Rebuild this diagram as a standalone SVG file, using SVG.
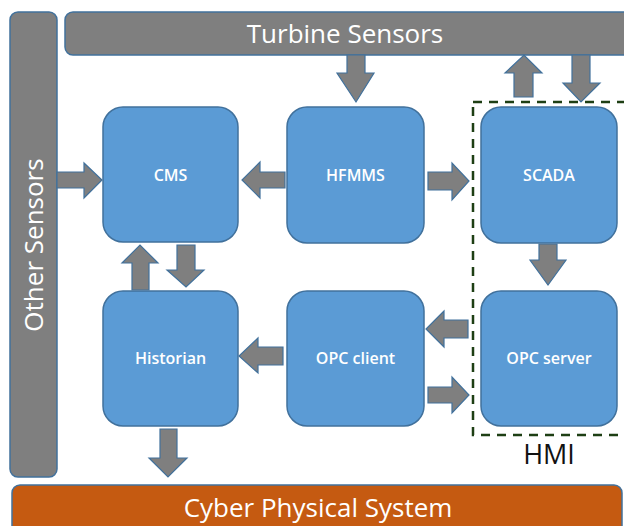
<svg xmlns="http://www.w3.org/2000/svg" width="624" height="526" viewBox="0 0 624 526">
  <style>
    .bar { fill: #7f7f7f; stroke: #41719c; stroke-width: 1.5; }
    .cps { fill: #c55a11; stroke: #41719c; stroke-width: 1.5; }
    .box { fill: #5b9bd5; stroke: #41719c; stroke-width: 1.5; }
    .arr { fill: #7f7f7f; stroke: #41719c; stroke-width: 1.2; stroke-linejoin: miter; }
    .hmi { fill: none; stroke: #1e3f14; stroke-width: 2.5; stroke-dasharray: 9 7; }
    .lbl { font-family: "Open Sans", "Noto Sans", sans-serif; font-weight: 600; font-size: 16px; fill: #ffffff; text-anchor: middle; dominant-baseline: central; }
    .big { font-family: "Open Sans", "Noto Sans", sans-serif; font-size: 26px; fill: #ffffff; text-anchor: middle; }
  </style>

  <rect width="624" height="526" fill="#ffffff"/>

  <!-- sensor and system bars -->
  <g id="turbine-sensors">
    <rect class="bar" x="65" y="12" width="566" height="43" rx="8"/>
    <text class="big" x="345" y="43">Turbine Sensors</text>
  </g>
  <g id="other-sensors">
    <rect class="bar" x="10" y="12" width="47" height="465" rx="8"/>
    <text class="big" transform="translate(43 245) rotate(-90)">Other Sensors</text>
  </g>
  <g id="cyber-physical-system">
    <rect class="cps" x="12" y="485" width="610" height="60" rx="8"/>
    <text class="big" x="318" y="517" font-size="27">Cyber Physical System</text>
  </g>

  <!-- HMI boundary -->
  <g id="hmi">
    <rect class="hmi" x="473" y="102" width="170" height="333"/>
    <text x="549" y="464" font-family="'Open Sans', 'Noto Sans', sans-serif" font-size="27" fill="#111111" text-anchor="middle">HMI</text>
  </g>

  <!-- processing blocks -->
  <g id="cms">
    <rect class="box" x="103" y="107" width="135" height="135" rx="20"/>
    <text class="lbl" x="170.5" y="175">CMS</text>
  </g>
  <g id="hfmms">
    <rect class="box" x="287" y="107" width="137" height="136" rx="20"/>
    <text class="lbl" x="355.5" y="175">HFMMS</text>
  </g>
  <g id="scada">
    <rect class="box" x="481" y="107" width="136" height="136" rx="20"/>
    <text class="lbl" x="549" y="175">SCADA</text>
  </g>
  <g id="historian">
    <rect class="box" x="103" y="291" width="135" height="135" rx="20"/>
    <text class="lbl" x="170.5" y="358">Historian</text>
  </g>
  <g id="opc-client">
    <rect class="box" x="287" y="291" width="137" height="135" rx="20"/>
    <text class="lbl" x="355.5" y="358">OPC client</text>
  </g>
  <g id="opc-server">
    <rect class="box" x="481" y="291" width="136" height="135" rx="20"/>
    <text class="lbl" x="549" y="358">OPC server</text>
  </g>

  <!-- block arrows -->
  <g id="connectors">
    <!-- Other Sensors -> CMS -->
    <polygon class="arr" points="57,172 84,172 84,163 102,180 84,198 84,188 57,188"/>
    <!-- HFMMS -> CMS -->
    <polygon class="arr" points="285,172 260,172 260,162 242,180 260,198 260,188 285,188"/>
    <!-- HFMMS -> SCADA -->
    <polygon class="arr" points="428,172 452,172 452,163 469,181 452,200 452,190 428,190"/>
    <!-- OPC server -> OPC client -->
    <polygon class="arr" points="468,320 444,320 444,311 426,329 444,347 444,338 468,338"/>
    <!-- OPC client -> OPC server -->
    <polygon class="arr" points="428,387 452,387 452,377 469,395 452,413 452,403 428,403"/>
    <!-- OPC client -> Historian -->
    <polygon class="arr" points="283,347 258,347 258,338 239,356 258,373 258,365 283,365"/>
    <!-- Turbine Sensors -> HFMMS -->
    <polygon class="arr" points="347,55 365,55 365,73 374,73 356,102 337,73 347,73"/>
    <!-- SCADA -> Turbine Sensors -->
    <polygon class="arr" points="514,97 533,97 533,73 542,73 524,55 505,73 514,73"/>
    <!-- Turbine Sensors -> SCADA -->
    <polygon class="arr" points="572,55 590,55 590,83 600,83 581,102 563,83 572,83"/>
    <!-- SCADA -> OPC server -->
    <polygon class="arr" points="539,244 557,244 557,260 566,260 548,285 530,260 539,260"/>
    <!-- Historian -> CMS -->
    <polygon class="arr" points="132,290 149,290 149,263 158,263 140,245 122,263 132,263"/>
    <!-- CMS -> Historian -->
    <polygon class="arr" points="177,245 195,245 195,270 204,270 186,287 167,270 177,270"/>
    <!-- Historian -> Cyber Physical System -->
    <polygon class="arr" points="160,429 177,429 177,458 187,458 168,477 149,458 160,458"/>
  </g>
</svg>
